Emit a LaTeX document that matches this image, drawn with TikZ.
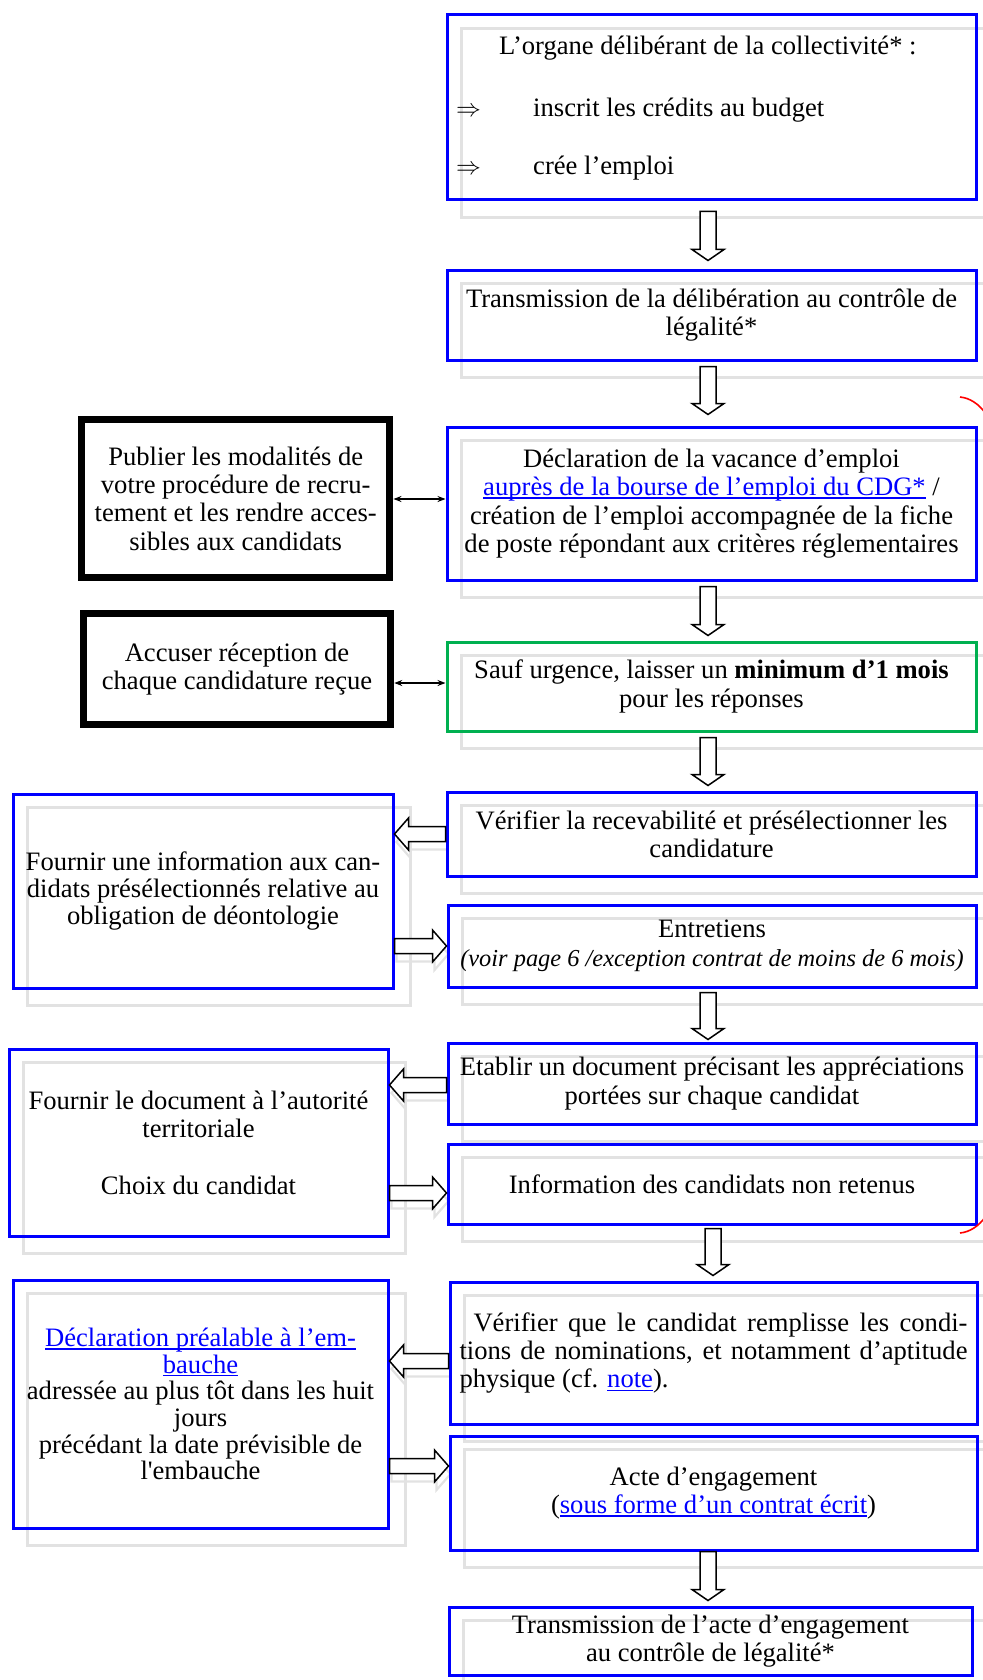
\documentclass[tikz,border=0pt]{standalone}
\usepackage{fontspec}
\setmainfont{Liberation Serif}
\usetikzlibrary{calc,arrows.meta}
\definecolor{boxblue}{RGB}{0,0,255}
\definecolor{boxgreen}{RGB}{0,176,80}
\definecolor{shadowgray}{RGB}{226,226,226}
\definecolor{lnkblue}{RGB}{0,0,255}
\pgfdeclarelayer{background}
\pgfsetlayers{background,main}
\newcommand{\lnk}[1]{\textcolor{lnkblue}{\setbox0\hbox{#1}\rlap{\rule[-3pt]{\wd0}{1.2pt}}\box0}}
\newcommand{\harrowL}[2]{%
 \begin{pgfonlayer}{background}
  \draw[hollowshadow] let \p1=($(#1)+(2,8)$), \p2=($(#2)+(2,8)$) in
   (\x1,\y1+7.5pt) -- (\x2+14pt,\y1+7.5pt) -- (\x2+14pt,\y1+16pt) -- (\x2,\y1) -- (\x2+14pt,\y1-16pt) -- (\x2+14pt,\y1-7.5pt) -- (\x1,\y1-7.5pt) -- cycle;
 \end{pgfonlayer}
 \draw[hollow] let \p1=(#1), \p2=(#2) in
   (\x1,\y1+7.5pt) -- (\x2+14pt,\y1+7.5pt) -- (\x2+14pt,\y1+16pt) -- (\x2,\y1) -- (\x2+14pt,\y1-16pt) -- (\x2+14pt,\y1-7.5pt) -- (\x1,\y1-7.5pt) -- cycle;}
\newcommand{\harrowR}[2]{%
 \begin{pgfonlayer}{background}
  \draw[hollowshadow] let \p1=($(#1)+(2,8)$), \p2=($(#2)+(2,8)$) in
   (\x1,\y1+7.5pt) -- (\x2-14pt,\y1+7.5pt) -- (\x2-14pt,\y1+16pt) -- (\x2,\y1) -- (\x2-14pt,\y1-16pt) -- (\x2-14pt,\y1-7.5pt) -- (\x1,\y1-7.5pt) -- cycle;
 \end{pgfonlayer}
 \draw[hollow] let \p1=(#1), \p2=(#2) in
   (\x1,\y1+7.5pt) -- (\x2-14pt,\y1+7.5pt) -- (\x2-14pt,\y1+16pt) -- (\x2,\y1) -- (\x2-14pt,\y1-16pt) -- (\x2-14pt,\y1-7.5pt) -- (\x1,\y1-7.5pt) -- cycle;}
\newcommand{\varrow}[2]{%
 \draw[hollow] let \p1=(#1), \p2=(#2) in
   (\x1-8pt,\y1) -- (\x1-8pt,\y2+11pt) -- (\x1-16pt,\y2+11pt) -- (\x1,\y2) -- (\x1+16pt,\y2+11pt) -- (\x1+8pt,\y2+11pt) -- (\x1+8pt,\y1) -- cycle;}
\tikzset{
 txt/.style={font=\fontsize{26.6pt}{28.4pt}\selectfont, inner sep=0pt, align=center},
 txtb/.style={font=\fontsize{26.6pt}{26.6pt}\selectfont},
 bluebox/.style={draw=boxblue, line width=3pt, txt, minimum width=529pt},
 greenbox/.style={draw=boxgreen, line width=3pt, txt, minimum width=529pt},
 blackbox/.style={draw=black, line width=7.5pt, txt},
 shadowbox/.style={draw=shadowgray, line width=3pt},
 hollow/.style={draw=black, line width=1.5pt, fill=white, line join=miter},
 hollowshadow/.style={draw=shadowgray, line width=2.2pt},
 dblarrow/.style={line width=1.3pt, {Stealth[length=8pt,width=6pt]}-{Stealth[length=8pt,width=6pt]}},
 redarc/.style={draw=red, line width=1.6pt},
}
\begin{document}
\begin{tikzpicture}[x=1pt,y=-1pt]
\useasboundingbox (0,0) rectangle (982,1680);
% right column
\node[bluebox, minimum height=185pt] (B1) at (711.5,107.5) {};
\node[txt, anchor=base west] (T1) at (499,55) {L’organe délibérant de la collectivité* :};
\node[txt, anchor=base west] (T2a) at (456,117) {$\Rightarrow$};
\node[txt, anchor=base west] (T2) at (533,117) {inscrit les crédits au budget};
\node[txt, anchor=base west] (T3a) at (456,175) {$\Rightarrow$};
\node[txt, anchor=base west] (T3) at (533,175) {crée l’emploi};
\node[bluebox, minimum height=90pt] (B2) at (711.5,315) {Transmission de la délibération au contrôle de\\légalité*};
\node[bluebox, minimum height=153pt] (B3) at (711.5,503.5) {Déclaration de la vacance d’emploi\\\lnk{auprès de la bourse de l’emploi du CDG*} /\\création de l’emploi accompagnée de la fiche\\de poste répondant aux critères réglementaires};
\node[greenbox, minimum height=89pt] (B4) at (711.5,686.5) {Sauf urgence, laisser un \textbf{minimum d’1 mois}\\pour les réponses};
\node[bluebox, minimum height=84pt] (B5) at (711.5,834) {Vérifier la recevabilité et présélectionner les\\candidature};
\node[bluebox, minimum height=82pt, minimum width=528pt] (B6) at (712,946) {Entretiens\\[1pt]{\fontsize{24.4pt}{26pt}\selectfont\itshape (voir page 6 /exception contrat de moins de 6 mois)}};
\node[bluebox, minimum height=81pt, minimum width=528pt] (B7) at (712,1083.5) {Etablir un document précisant les appréciations\\portées sur chaque candidat};
\node[bluebox, minimum height=80pt, minimum width=528pt] (B8) at (712,1184) {Information des candidats non retenus};
\node[bluebox, minimum height=142pt, minimum width=527pt, text width=508pt, align=justify] (B9) at (713.5,1353) {\hspace*{14pt}Vérifier que le candidat remplisse les condi-\linebreak tions de nominations, et notamment d’aptitude\linebreak physique (cf. \lnk{note}).};
\node[bluebox, minimum height=114pt, minimum width=527pt] (B10) at (713.5,1493) {Acte d’engagement\\(\lnk{sous forme d’un contrat écrit})};
\node[bluebox, minimum height=68pt, minimum width=523pt] (B11) at (710.5,1641) {Transmission de l’acte d’engagement\\au contrôle de légalité*};
% left column
\node[blackbox, minimum width=308pt, minimum height=158pt] (L1) at (235.7,498.5) {Publier les modalités de\\votre procédure de recru-\\tement et les rendre acces-\\sibles aux candidats};
\node[blackbox, minimum width=307pt, minimum height=111pt] (L2) at (237,669) {Accuser réception de\\chaque candidature reçue};
\node[bluebox, txtb, minimum width=380pt, minimum height=194pt] (L3) at (203,891) {Fournir une information aux can-\\didats présélectionnés relative au\\obligation de déontologie};
\node[bluebox, minimum width=379pt, minimum height=187pt] (L4) at (198.5,1142.5) {Fournir le document à l’autorité\\territoriale\\[28pt]Choix du candidat};
\node[bluebox, txtb, minimum width=375pt, minimum height=248pt] (L5) at (200.5,1404) {\lnk{Déclaration préalable à l’em-}\\\lnk{bauche}\\adressée au plus tôt dans les huit\\jours\\précédant la date prévisible de\\l\textquotesingle embauche};
% shadows
\begin{pgfonlayer}{background}
\foreach \n in {B1,B2,B3,B4,B5,B6,B7,B8,B9,B10,B11,L3,L4,L5}
  \draw[shadowbox] ([shift={(16,15)}]\n.north west) rectangle ([shift={(16,16)}]\n.south east);
\end{pgfonlayer}
% vertical arrows
\coordinate (ax) at (708,0);
\coordinate (bx) at (713,0);
\varrow{$(B1.south -| ax)+(0,10)$}{$(B2.north -| ax)+(0,-8)$}
\varrow{$(B2.south -| ax)+(0,5)$}{$(B3.north -| ax)+(0,-11)$}
\varrow{$(B3.south -| ax)+(0,5)$}{$(B4.north -| ax)+(0,-5)$}
\varrow{$(B4.south -| ax)+(0,5)$}{$(B5.north -| ax)+(0,-5)$}
\varrow{$(B6.south -| ax)+(0,4)$}{$(B7.north -| ax)+(0,-2)$}
\varrow{$(B8.south -| bx)+(0,3)$}{$(B9.north -| bx)+(0,-5)$}
\varrow{$(B10.south -| ax)+(0,0)$}{$(B11.north -| ax)+(0,-5)$}
% horizontal hollow arrows
\coordinate (h1) at (0,834);
\coordinate (h2) at (0,946);
\coordinate (h3) at (0,1085);
\coordinate (h4) at (0,1193);
\coordinate (h5) at (0,1361);
\coordinate (h6) at (0,1466);
\harrowL{B5.west |- h1}{L3.east |- h1}
\harrowR{L3.east |- h2}{B6.west |- h2}
\harrowL{B7.west |- h3}{L4.east |- h3}
\harrowR{L4.east |- h4}{B8.west |- h4}
\harrowL{B9.west |- h5}{L5.east |- h5}
\harrowR{L5.east |- h6}{B10.west |- h6}
% double arrows
\coordinate (d1) at (0,499);
\coordinate (d2) at (0,683);
\draw[dblarrow] (L1.east |- d1) -- (B3.west |- d1);
\draw[dblarrow] (L2.east |- d2) -- (B4.west |- d2);
% red bracket ends
\coordinate (r1) at (960,397);
\coordinate (r2) at (960,1233);
\draw[redarc] (r1) .. controls (970,398) and (979,404) .. (986,414);
\draw[redarc] (r2) .. controls (970,1232) and (979,1226) .. (986,1216);
\end{tikzpicture}
\end{document}
